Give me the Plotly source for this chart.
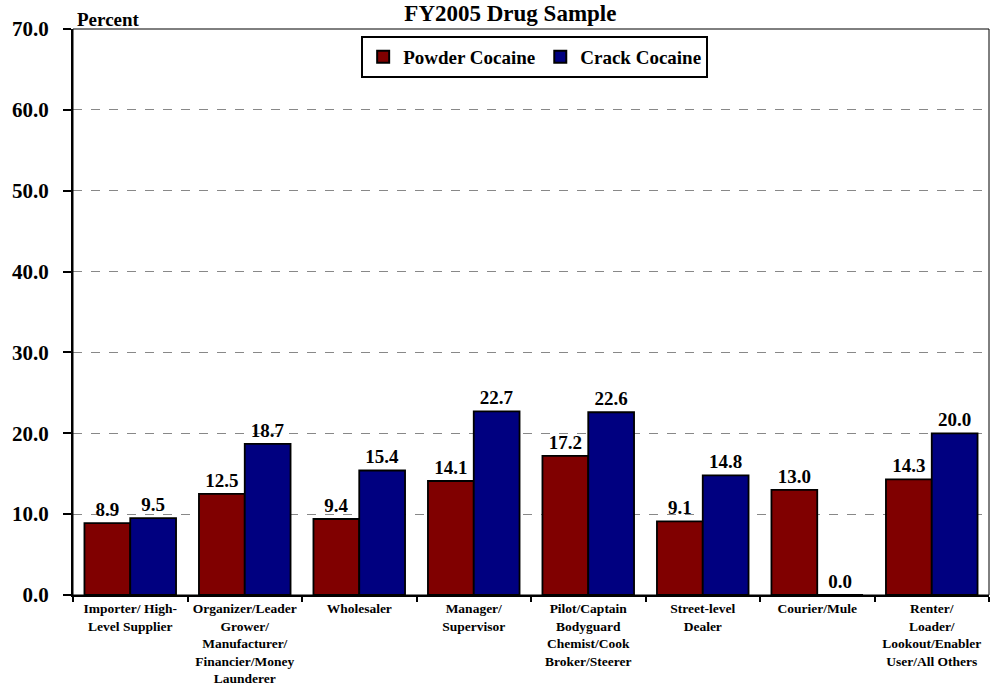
import plotly.graph_objects as go

categories = [
    "Importer/ High-<br>Level Supplier",
    "Organizer/Leader<br>Grower/<br>Manufacturer/<br>Financier/Money<br>Launderer",
    "Wholesaler",
    "Manager/<br>Supervisor",
    "Pilot/Captain<br>Bodyguard<br>Chemist/Cook<br>Broker/Steerer",
    "Street-level<br>Dealer",
    "Courier/Mule",
    "Renter/<br>Loader/<br>Lookout/Enabler<br>User/All Others",
]
powder = [8.9, 12.5, 9.4, 14.1, 17.2, 9.1, 13.0, 14.3]
crack = [9.5, 18.7, 15.4, 22.7, 22.6, 14.8, 0.0, 20.0]
y_ticks = [0, 10, 20, 30, 40, 50, 60, 70]

serif = "Liberation Serif, Times New Roman, serif"

def bold_lines(s):
    return "<br>".join(f"<b>{p}</b>" for p in s.split("<br>"))

fig = go.Figure()
fig.add_trace(go.Bar(
    x=categories, y=powder, name="<b>Powder Cocaine</b>",
    marker=dict(color="#800000", line=dict(color="black", width=1.8)),
    text=[f"<b>{v:.1f}</b>" for v in powder], textposition="outside",
    textfont=dict(family=serif, size=19, color="black"), cliponaxis=False,
))
fig.add_trace(go.Bar(
    x=categories, y=crack, name="<b>Crack Cocaine</b>",
    marker=dict(color="#000080", line=dict(color="black", width=1.8)),
    text=[f"<b>{v:.1f}</b>" for v in crack], textposition="outside",
    textfont=dict(family=serif, size=19, color="black"), cliponaxis=False,
))

fig.update_layout(
    width=993, height=687,
    margin=dict(l=73, r=4, t=29, b=92, autoexpand=False),
    paper_bgcolor="white", plot_bgcolor="white",
    barmode="group", bargap=0.2, bargroupgap=0,
    font=dict(family=serif, color="black"),
    title=dict(text="<b>FY2005 Drug Sample</b>", x=0.514, xanchor="center",
               y=0.981, yanchor="middle", font=dict(family=serif, size=23, color="black")),
    legend=dict(orientation="h", x=0.504, xanchor="center", y=0.988, yanchor="top",
                bordercolor="black", borderwidth=2, bgcolor="white",
                font=dict(family=serif, size=19, color="black"),
                itemsizing="constant", tracegroupgap=0),
    showlegend=True,
    uniformtext=dict(mode=False),
)

fig.update_xaxes(
    type="category", tickson="boundaries", ticks="outside", ticklen=5, tickwidth=2,
    tickcolor="black", showline=True, linecolor="black", linewidth=2, mirror=False,
    tickfont=dict(family=serif, size=13.5, color="black"), tickangle=0, showgrid=False,
    tickmode="array", tickvals=categories, ticktext=[bold_lines(c) for c in categories],
    automargin=False,
)
fig.update_yaxes(
    range=[0, 70], tickvals=y_ticks, ticktext=[f"<b>{v:.1f}</b>" for v in y_ticks],
    ticks="outside", ticklen=8, tickwidth=2, tickcolor="black",
    showline=True, linecolor="black", linewidth=2,
    showgrid=True, gridcolor="#888888", griddash="dash", gridwidth=1,
    tickfont=dict(family=serif, size=21, color="black"), zeroline=False,
    ticklabelstandoff=10, automargin=False,
)
# thin top/right frame
fig.add_shape(type="rect", xref="paper", yref="paper", x0=0, x1=1, y0=0, y1=1,
              line=dict(color="black", width=1), layer="above")
fig.add_annotation(text="<b>Percent</b>", xref="paper", yref="paper", x=0.002, y=1,
                   xanchor="left", yanchor="bottom", showarrow=False, yshift=-3,
                   font=dict(family=serif, size=19, color="black"))

fig.write_html("out.html", config={"displayModeBar": False},
               post_script="document.body.style.margin='0';")
